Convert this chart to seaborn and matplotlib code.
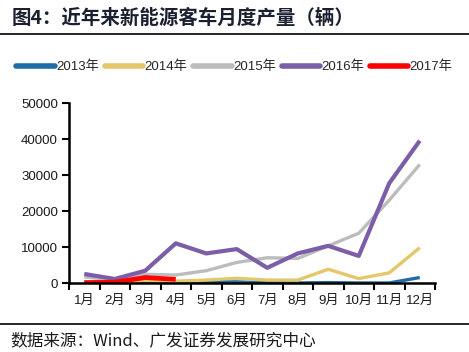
import matplotlib
matplotlib.use("Agg")
import matplotlib.pyplot as plt
import seaborn as sns
import pandas as pd
from matplotlib.lines import Line2D

months = ["1月", "2月", "3月", "4月", "5月", "6月", "7月", "8月", "9月", "10月", "11月", "12月"]
y2013 = [100, 100, 400, 200, 500, 400, 150, 100, 200, 100, 100, 1600]
y2014 = [150, 200, 800, 600, 900, 1400, 900, 900, 3900, 1300, 2900, 9900]
y2015 = [1800, 900, 2500, 2300, 3500, 5800, 7100, 6900, 10400, 13900, 23100, 33000]
y2016 = [2600, 1200, 3500, 11100, 8300, 9500, 4300, 8300, 10400, 7600, 27800, 39600]
y2017 = [200, 300, 1600, 1100]
series_names = ["2013年", "2014年", "2015年", "2016年", "2017年"]
yticks = [0, 10000, 20000, 30000, 40000, 50000]

title = "图4：近年来新能源客车月度产量（辆）"
source = "数据来源：Wind、广发证券发展研究中心"

colors = ["#1F6DA8", "#E5C76B", "#BCBCBC", "#7B5EA7", "#FF0000"]
widths = [2.4, 2.4, 2.4, 3.0, 3.4]

rows = []
for name, vals in zip(series_names, [y2013, y2014, y2015, y2016, y2017]):
    for m, v in zip(months, vals):
        rows.append({"month": m, "value": v, "year": name})
df = pd.DataFrame(rows)

sns.set_theme(style="white")
plt.rcParams["font.family"] = ["Liberation Sans", "Noto Sans CJK SC", "DejaVu Sans"]
txt = "#1A1A1A"

fig = plt.figure(figsize=(4.69, 3.52), dpi=100)
ax = fig.add_axes([69/469, 1-283.3/352, (435-69)/469, (283.3-103.3)/352])

for name, c, w in zip(series_names, colors, widths):
    sub = df[df["year"] == name]
    sns.lineplot(data=sub, x="month", y="value", color=c, lw=w, ax=ax,
                 sort=False, legend=False, solid_capstyle="butt")

ax.set_xlim(-0.5, 11.5)
ax.set_ylim(0, 50000)
ax.set_yticks(yticks)
ax.set_yticklabels([str(t) for t in yticks], fontsize=9.5, color=txt)
ax.set_xticks([i - 0.5 for i in range(13)])
ax.set_xticklabels([])
ax.set_xticks(range(12), minor=True)
ax.set_xticklabels(months, minor=True, fontsize=9.5, color=txt,
                   family=["Liberation Sans", "Noto Sans CJK SC"])
ax.tick_params(axis="x", which="major", direction="out", length=5, width=1.5, color="black", bottom=True)
ax.tick_params(axis="x", which="minor", length=0, pad=8)
ax.tick_params(axis="y", direction="out", length=5, width=1.5, color="black", left=True, pad=3)
ax.set_xlabel("")
ax.set_ylabel("")
for s in ["top", "right"]:
    ax.spines[s].set_visible(False)
for s in ["left", "bottom"]:
    ax.spines[s].set_color("black")
    ax.spines[s].set_linewidth(1.8)
ax.grid(False)

handles = [Line2D([0], [0], color=c, lw=4, solid_capstyle="round") for c in colors]
fig.legend(handles, series_names, loc="center", bbox_to_anchor=(0.5, 1-67/352), ncol=5,
           frameon=False, handlelength=2.9, handletextpad=0.1,
           columnspacing=0.45, prop={"family": ["Liberation Sans", "Noto Sans CJK SC"], "size": 9.5})

fig.text(12/469, 1-18/352, title, fontsize=14, fontweight="bold", color="#1B2030",
         va="center", ha="left", family=["Noto Sans CJK SC"])
fig.add_artist(Line2D([0, 1], [1-34/352, 1-34/352], color="black", lw=1.2, transform=fig.transFigure))
fig.add_artist(Line2D([0, 1], [1-324/352, 1-324/352], color="black", lw=1.2, transform=fig.transFigure))
fig.text(10/469, 1-341/352, source, fontsize=12, color=txt, va="center", ha="left",
         family=["Noto Sans CJK SC"])

fig.savefig("out.png", dpi=100)
